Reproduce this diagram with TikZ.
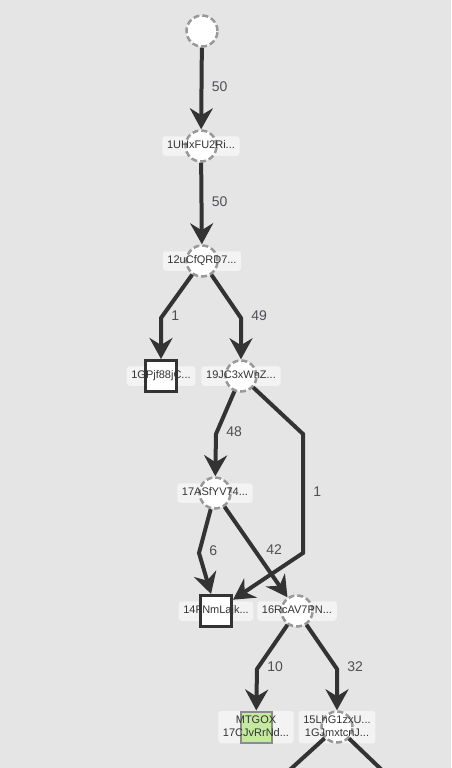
\documentclass[tikz,border=0pt]{standalone}
\usepackage{fontspec}
\setmainfont{Liberation Sans}
\usetikzlibrary{arrows.meta, calc, backgrounds}
\definecolor{canvas}{HTML}{E5E5E5}
\definecolor{ink}{HTML}{333333}
\definecolor{rim}{HTML}{999999}
\definecolor{tagfill}{HTML}{F3F3F3}
\definecolor{numcol}{HTML}{4F4F55}
\definecolor{mtgox}{HTML}{C5E9A1}
\pgfdeclarelayer{canvaslayer}
\pgfdeclarelayer{taglayer}
\pgfsetlayers{canvaslayer,taglayer,main}
\tikzstyle{tx} = [circle, minimum size=31pt, inner sep=0pt, fill=white, draw=rim, line width=2.5pt, dash pattern=on 6pt off 3pt]
\tikzstyle{addr} = [rectangle, minimum size=31pt, inner sep=0pt, fill=white, draw=ink, line width=3pt]
\tikzstyle{named} = [addr, fill=mtgox, draw=gray!90, line width=2pt]
\tikzstyle{tag} = [inner xsep=4.5pt, inner ysep=4.3pt, text=ink, font=\fontsize{11}{13}\selectfont, align=center, text height=8pt, text depth=2.5pt]
\tikzstyle{flow} = [draw=ink, line width=4pt, -{Stealth[length=21pt, width=23pt, inset=7pt]}]
\tikzstyle{amt} = [right, xshift=5pt, yshift=2pt, text=numcol, font=\fontsize{14}{16}\selectfont]

\begin{document}
\begin{tikzpicture}[x=1pt, y=-1pt]
  \useasboundingbox (0,0) rectangle (451,768);
  \begin{pgfonlayer}{canvaslayer}
    \fill[canvas] (0,0) rectangle (451,768);
  \end{pgfonlayer}
  \clip (0,0) rectangle (451,768);

  % transactions and addresses
  \node[tx] (t0) at (202,31) {};
  \node[tx] (t1) at (201,146) {};
  \node[tx] (t2) at (202,261) {};
  \node[addr] (a1) at (161,376) {};
  \node[tx] (t3) at (241,376) {};
  \node[tx] (t4) at (215,493) {};
  \node[addr] (a2) at (216,611) {};
  \node[tx] (t5) at (297,611) {};
  \node[named] (a3) at (256,727) {};
  \node[tx] (t6) at (337,727) {};
  \coordinate (off1) at (261,796);
  \coordinate (off2) at (409,796);

  % bends
  \coordinate (k1) at ($(t0)!.5!(t1)$);
  \coordinate (k2) at ($(t1)!.5!(t2)$);
  \coordinate (k3) at (161,318);
  \coordinate (k4) at (241,318);
  \coordinate (k5) at (216,434);
  \coordinate (k6) at (303,434);
  \coordinate (k7) at (303,553);
  \coordinate (k8) at (199,553);
  \coordinate (k9) at (257,669);
  \coordinate (k10) at (337,669);

  % flows
  \draw[flow] (t0) -- (k1) node[amt] {50} -- (t1);
  \draw[flow] (t1) -- (k2) node[amt] {50} -- (t2);
  \draw[flow] (t2) -- (k3) node[amt] {1} -- (a1);
  \draw[flow] (t2) -- (k4) node[amt] {49} -- (t3);
  \draw[flow] (t3) -- (k5) node[amt] {48} -- (t4);
  \draw[flow] (t3) -- (k6) -- node[amt] {1} (k7) -- (a2);
  \draw[flow] (t4) -- (k8) node[amt] {6} -- (a2);
  \draw[flow] (t4) -- node[amt] {42} (t5);
  \draw[flow] (t5) -- (k9) node[amt] {10} -- (a3);
  \draw[flow] (t5) -- (k10) node[amt] {32} -- (t6);
  \draw[flow] (t6) -- (off1);
  \draw[flow] (t6) -- (off2);

  % labels
  \node[tag] (n1) at (t1) {1UHxFU2Ri...};
  \node[tag] (n2) at (t2) {12uCfQRD7...};
  \node[tag] (n3) at (a1) {1GPjf88jC...};
  \node[tag] (n4) at (t3) {19JC3xWnZ...};
  \node[tag] (n5) at (t4) {17ASfYV74...};
  \node[tag] (n6) at (a2) {14FNmLajk...};
  \node[tag] (n7) at (t5) {16RcAV7PN...};
  \node[tag, text height=21pt] (n8) at (a3) {MTGOX\\17CJvRrNd...};
  \node[tag, text height=21pt] (n9) at (t6) {15LhG1zxU...\\1GJmxtcnJ...};
  \begin{pgfonlayer}{taglayer}
    \foreach \i in {1,...,9}
      \fill[tagfill, rounded corners=3pt] (n\i.south west) rectangle (n\i.north east);
  \end{pgfonlayer}
\end{tikzpicture}
\end{document}
